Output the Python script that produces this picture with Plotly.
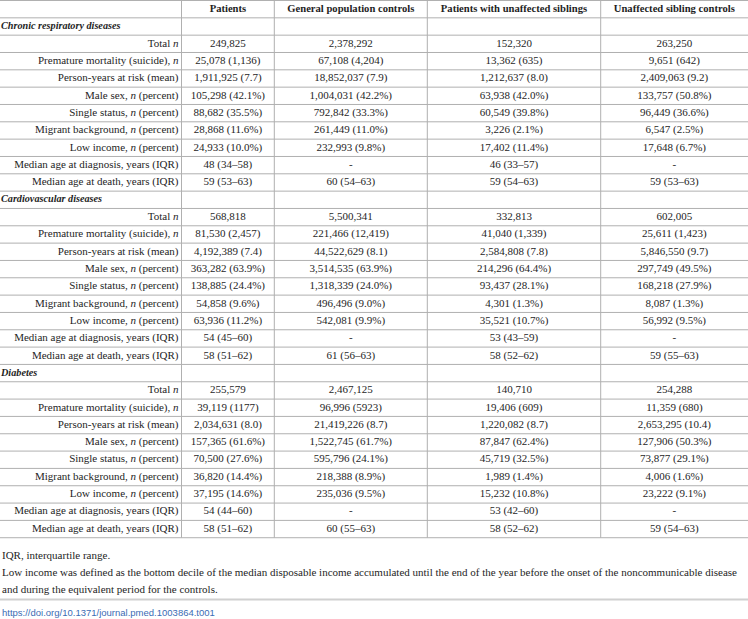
import plotly.graph_objects as go

W, H = 748, 619

col_headers = ["Patients", "General population controls",
               "Patients with unaffected siblings", "Unaffected sibling controls"]

sections = ["Chronic respiratory diseases", "Cardiovascular diseases", "Diabetes"]

row_labels = [
    "Total <i>n</i>",
    "Premature mortality (suicide), <i>n</i>",
    "Person-years at risk (mean)",
    "Male sex, <i>n</i> (percent)",
    "Single status, <i>n</i> (percent)",
    "Migrant background, <i>n</i> (percent)",
    "Low income, <i>n</i> (percent)",
    "Median age at diagnosis, years (IQR)",
    "Median age at death, years (IQR)",
]

# Chronic respiratory diseases
patients_crd = ["249,825", "25,078 (1,136)", "1,911,925 (7.7)", "105,298 (42.1%)", "88,682 (35.5%)",
                "28,868 (11.6%)", "24,933 (10.0%)", "48 (34–58)", "59 (53–63)"]
general_crd = ["2,378,292", "67,108 (4,204)", "18,852,037 (7.9)", "1,004,031 (42.2%)", "792,842 (33.3%)",
               "261,449 (11.0%)", "232,993 (9.8%)", "-", "60 (54–63)"]
sibpat_crd = ["152,320", "13,362 (635)", "1,212,637 (8.0)", "63,938 (42.0%)", "60,549 (39.8%)",
              "3,226 (2.1%)", "17,402 (11.4%)", "46 (33–57)", "59 (54–63)"]
sibctrl_crd = ["263,250", "9,651 (642)", "2,409,063 (9.2)", "133,757 (50.8%)", "96,449 (36.6%)",
               "6,547 (2.5%)", "17,648 (6.7%)", "-", "59 (53–63)"]

# Cardiovascular diseases
patients_cvd = ["568,818", "81,530 (2,457)", "4,192,389 (7.4)", "363,282 (63.9%)", "138,885 (24.4%)",
                "54,858 (9.6%)", "63,936 (11.2%)", "54 (45–60)", "58 (51–62)"]
general_cvd = ["5,500,341", "221,466 (12,419)", "44,522,629 (8.1)", "3,514,535 (63.9%)", "1,318,339 (24.0%)",
               "496,496 (9.0%)", "542,081 (9.9%)", "-", "61 (56–63)"]
sibpat_cvd = ["332,813", "41,040 (1,339)", "2,584,808 (7.8)", "214,296 (64.4%)", "93,437 (28.1%)",
              "4,301 (1.3%)", "35,521 (10.7%)", "53 (43–59)", "58 (52–62)"]
sibctrl_cvd = ["602,005", "25,611 (1,423)", "5,846,550 (9.7)", "297,749 (49.5%)", "168,218 (27.9%)",
               "8,087 (1.3%)", "56,992 (9.5%)", "-", "59 (55–63)"]

# Diabetes
patients_dm = ["255,579", "39,119 (1177)", "2,034,631 (8.0)", "157,365 (61.6%)", "70,500 (27.6%)",
               "36,820 (14.4%)", "37,195 (14.6%)", "54 (44–60)", "58 (51–62)"]
general_dm = ["2,467,125", "96,996 (5923)", "21,419,226 (8.7)", "1,522,745 (61.7%)", "595,796 (24.1%)",
              "218,388 (8.9%)", "235,036 (9.5%)", "-", "60 (55–63)"]
sibpat_dm = ["140,710", "19,406 (609)", "1,220,082 (8.7)", "87,847 (62.4%)", "45,719 (32.5%)",
             "1,989 (1.4%)", "15,232 (10.8%)", "53 (42–60)", "58 (52–62)"]
sibctrl_dm = ["254,288", "11,359 (680)", "2,653,295 (10.4)", "127,906 (50.3%)", "73,877 (29.1%)",
              "4,006 (1.6%)", "23,222 (9.1%)", "-", "59 (54–63)"]

footnotes = [
    "IQR, interquartile range.",
    "Low income was defined as the bottom decile of the median disposable income accumulated until the end of the year before the onset of the noncommunicable disease",
    "and during the equivalent period for the controls.",
]
doi_text = "https://doi.org/10.1371/journal.pmed.1003864.t001"

section_data = [
    (patients_crd, general_crd, sibpat_crd, sibctrl_crd),
    (patients_cvd, general_cvd, sibpat_cvd, sibctrl_cvd),
    (patients_dm, general_dm, sibpat_dm, sibctrl_dm),
]

# ---- layout constants (pixels) ----
COL_EDGES = [0, 181.5, 274.3, 427.3, 600.7, 748]
ROW_H = 17.33
SERIF = "Liberation Serif, Times New Roman, serif"
FS = 11.0
FS_HEAD = 10.6
FS_SEC = 10.2
FS_NOTE = 11.0
TXT = "#1e1e1e"
LINE = "#b0b0b0"

# ---- assemble rows (row 0 = header) ----
sec_rows, sec_text = [], []
lab_rows, lab_text = [], []
val_rows = []
val_cols = [[] for _ in range(4)]
r = 1
for name, data in zip(sections, section_data):
    sec_rows.append(r)
    sec_text.append("<b><i>" + name + "</i></b>")
    r += 1
    for i, lab in enumerate(row_labels):
        lab_rows.append(r)
        lab_text.append(lab)
        val_rows.append(r)
        for c in range(4):
            val_cols[c].append(data[c][i])
        r += 1
n_rows = r  # including header

centers = [(COL_EDGES[k] + COL_EDGES[k + 1]) / 2 for k in range(len(COL_EDGES) - 1)]
font = dict(family=SERIF, size=FS, color=TXT)

fig = go.Figure()
# header
fig.add_trace(go.Scatter(x=centers[1:], y=[0] * 4, mode="text",
                         text=["<b>" + h + "</b>" for h in col_headers],
                         textposition="middle center",
                         textfont=dict(family=SERIF, size=FS_HEAD, color=TXT),
                         hoverinfo="skip", cliponaxis=False))
# section titles
fig.add_trace(go.Scatter(x=[COL_EDGES[0] + 1] * len(sec_rows), y=sec_rows, mode="text",
                         text=sec_text, textposition="middle right",
                         textfont=dict(family=SERIF, size=FS_SEC, color=TXT),
                         hoverinfo="skip", cliponaxis=False))
# row labels
fig.add_trace(go.Scatter(x=[COL_EDGES[1] - 3] * len(lab_rows), y=lab_rows, mode="text",
                         text=lab_text, textposition="middle left", textfont=font,
                         hoverinfo="skip", cliponaxis=False))
# values
for c in range(4):
    fig.add_trace(go.Scatter(x=[centers[c + 1]] * len(val_rows), y=val_rows, mode="text",
                             text=val_cols[c], textposition="middle center", textfont=font,
                             hoverinfo="skip", cliponaxis=False))

# grid lines
for b in range(n_rows + 1):
    yb = b - 0.5
    fig.add_shape(type="line", xref="x", yref="y", x0=COL_EDGES[0], x1=COL_EDGES[-1],
                  y0=yb, y1=yb, line=dict(color=LINE, width=1))
for xe in COL_EDGES[1:-1]:
    fig.add_shape(type="line", xref="x", yref="y", x0=xe, x1=xe,
                  y0=-0.5, y1=n_rows - 0.5, line=dict(color=LINE, width=1))

# y axis: pixel 0.5 -> boundary -0.5
y_top = -0.5 - 0.5 / ROW_H
y_bot = y_top + H / ROW_H

ann_y = [555, 572, 589]
for txt, yp in zip(footnotes, ann_y):
    fig.add_annotation(text=txt, xref="paper", yref="paper", x=0, y=1 - yp / H,
                       xanchor="left", yanchor="middle", showarrow=False,
                       font=dict(family=SERIF, size=FS_NOTE, color=TXT))

fig.add_shape(type="line", xref="paper", yref="paper", x0=0, x1=1,
              y0=1 - 599.5 / H, y1=1 - 599.5 / H, line=dict(color="#d0d0d0", width=2))

fig.add_annotation(text=doi_text, xref="paper", yref="paper", x=0, y=1 - 612 / H,
                   xanchor="left", yanchor="middle", showarrow=False,
                   font=dict(family="Liberation Sans Narrow, Liberation Sans, Arial, sans-serif",
                             size=9.5, color="#3a6cb4"))

fig.update_xaxes(range=[0, W], visible=False, fixedrange=True)
fig.update_yaxes(range=[y_bot, y_top], visible=False, fixedrange=True)
fig.update_layout(width=W, height=H, margin=dict(l=0, r=0, t=0, b=0),
                  paper_bgcolor="white", plot_bgcolor="white", showlegend=False)

fig.write_html("out.html", config={"displayModeBar": False},
               post_script="document.body.style.margin='0';")
